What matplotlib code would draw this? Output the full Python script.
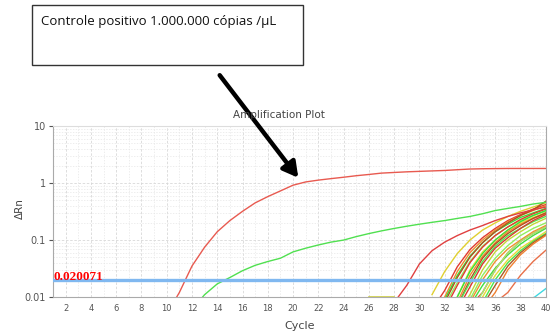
import numpy as np
import matplotlib
matplotlib.use("Agg")
from matplotlib import pyplot as plt
from matplotlib.ticker import LogLocator, FixedLocator, NullFormatter

# amostra controle positivo (curva principal)
main_cycles = list(range(10, 41))
main_vals = [0.005, 0.012, 0.035, 0.075, 0.14, 0.22, 0.32, 0.45, 0.58, 0.73,
             0.92, 1.05, 1.13, 1.2, 1.27, 1.35, 1.42, 1.5, 1.54, 1.58,
             1.61, 1.64, 1.67, 1.72, 1.77, 1.79, 1.8, 1.81, 1.81, 1.81, 1.81]

green_cycles = list(range(12, 41))
green_vals = [0.006, 0.011, 0.017, 0.022, 0.029, 0.036, 0.042, 0.048, 0.062, 0.072,
              0.082, 0.092, 0.10, 0.115, 0.13, 0.145, 0.16, 0.175, 0.19, 0.205,
              0.22, 0.24, 0.26, 0.29, 0.33, 0.36, 0.39, 0.43, 0.46]

red2_cycles = list(range(28, 41))
red2_vals = [0.008, 0.016, 0.038, 0.065, 0.092, 0.12, 0.15, 0.18, 0.22, 0.26, 0.30, 0.34, 0.38]

# curvas tardias (ciclos 31..40)
late_cycles = list(range(31, 41))
late_vals = [
    [0.011, 0.028, 0.058, 0.10, 0.15, 0.20, 0.26, 0.32, 0.38, 0.45],
    [0.006, 0.013, 0.034, 0.068, 0.11, 0.16, 0.22, 0.28, 0.35, 0.42],
    [0.005, 0.010, 0.028, 0.060, 0.10, 0.15, 0.21, 0.27, 0.33, 0.40],
    [0.004, 0.009, 0.024, 0.052, 0.09, 0.14, 0.19, 0.25, 0.30, 0.36],
    [0.004, 0.008, 0.022, 0.050, 0.09, 0.14, 0.20, 0.27, 0.34, 0.48],
    [0.003, 0.007, 0.018, 0.042, 0.078, 0.12, 0.17, 0.22, 0.27, 0.32],
    [0.003, 0.006, 0.016, 0.040, 0.075, 0.12, 0.17, 0.23, 0.29, 0.35],
    [0.003, 0.005, 0.010, 0.030, 0.062, 0.10, 0.15, 0.20, 0.25, 0.30],
    [0.003, 0.005, 0.010, 0.028, 0.058, 0.10, 0.15, 0.21, 0.27, 0.33],
    [0.002, 0.004, 0.008, 0.024, 0.052, 0.09, 0.14, 0.19, 0.24, 0.29],
    [0.002, 0.004, 0.007, 0.020, 0.048, 0.085, 0.13, 0.18, 0.24, 0.30],
    [0.002, 0.004, 0.007, 0.018, 0.042, 0.078, 0.12, 0.16, 0.21, 0.26],
    [0.002, 0.003, 0.006, 0.015, 0.038, 0.072, 0.11, 0.16, 0.22, 0.28],
    [0.002, 0.003, 0.005, 0.011, 0.030, 0.062, 0.10, 0.14, 0.19, 0.24],
    [0.002, 0.003, 0.005, 0.009, 0.024, 0.048, 0.080, 0.12, 0.16, 0.20],
    [0.002, 0.003, 0.004, 0.008, 0.020, 0.042, 0.070, 0.10, 0.14, 0.18],
    [0.002, 0.003, 0.004, 0.007, 0.016, 0.032, 0.055, 0.085, 0.12, 0.16],
    [0.002, 0.003, 0.004, 0.007, 0.012, 0.030, 0.060, 0.095, 0.13, 0.17],
    [0.002, 0.003, 0.004, 0.006, 0.010, 0.024, 0.045, 0.072, 0.10, 0.14],
    [0.002, 0.003, 0.004, 0.005, 0.008, 0.020, 0.040, 0.065, 0.095, 0.13],
    [0.002, 0.003, 0.004, 0.005, 0.007, 0.016, 0.035, 0.060, 0.09, 0.125],
    [0.002, 0.003, 0.004, 0.005, 0.006, 0.012, 0.030, 0.055, 0.085, 0.12],
    [0.002, 0.003, 0.004, 0.005, 0.012, 0.030, 0.060, 0.095, 0.13, 0.17],
    [0.002, 0.003, 0.004, 0.005, 0.006, 0.008, 0.012, 0.024, 0.042, 0.066],
    [0.002, 0.003, 0.004, 0.005, 0.006, 0.007, 0.008, 0.009, 0.0095, 0.014],
]
late_colors = ['#e0d030', '#e03a30', '#f08a30', '#38e038', '#b05020', '#90ee60',
               '#e03a30', '#e8e040', '#38e038', '#f08a30', '#b05020', '#50e850',
               '#d83a30', '#c0d838', '#90ee60', '#f09030', '#40e040', '#e04838',
               '#e8d838', '#48e848', '#a85a28', '#f08030', '#a0f070', '#e8704a',
               '#40d8e0']

flat_cycles = [26, 27, 28]
flat_vals = [0.0101, 0.0101, 0.0101]

threshold = 0.020071
xticks = list(range(2, 41, 2))

fig = plt.figure(figsize=(5.58, 3.31), dpi=100)
ax = fig.add_axes([0.095, 0.1027, 0.883, 0.516])
ax.set_yscale('log')
ax.set_xlim(1, 40)
ax.set_ylim(0.01, 10)

for vals, col in zip(late_vals, late_colors):
    ax.plot(late_cycles, vals, color=col, lw=1.0)
ax.plot(flat_cycles, flat_vals, color='#d0d040', lw=1.2)
ax.plot(red2_cycles, red2_vals, color='#e04040', lw=1.0)
ax.plot(green_cycles, green_vals, color='#50e050', lw=1.0)
ax.plot(main_cycles, main_vals, color='#e85a50', lw=1.0)

ax.axhline(threshold, color='#80b8f0', lw=2.4, zorder=5)
ax.text(1.05, threshold, '0.020071', color='#ff0000', fontsize=9.5, fontweight='bold',
        family='Liberation Serif', va='baseline', ha='left', zorder=6)

ax.xaxis.set_major_locator(FixedLocator(xticks))
ax.xaxis.set_minor_locator(FixedLocator(list(range(1, 41))))
ax.yaxis.set_major_locator(LogLocator(base=10))
ax.yaxis.set_minor_locator(LogLocator(base=10, subs=np.arange(2, 10)))
ax.yaxis.set_minor_formatter(NullFormatter())
ax.set_yticks([0.01, 0.1, 1, 10])
ax.set_yticklabels(['0.01', '0.1', '1', '10'])
ax.grid(True, which='major', color='#d8d8d8', ls=(0, (3, 2)), lw=0.6)
ax.grid(True, which='minor', color='#e6e6e6', ls=(0, (2, 2)), lw=0.5)
ax.set_axisbelow(True)
ax.tick_params(axis='x', which='major', labelsize=6, colors='#555555', length=0, pad=5)
ax.tick_params(axis='x', which='minor', length=0)
ax.tick_params(axis='y', which='major', labelsize=7, colors='#555555', length=3, pad=2)
ax.tick_params(axis='y', which='minor', length=0)
for s in ['left', 'bottom', 'right']:
    ax.spines[s].set_color('#aaaaaa')
ax.spines['top'].set_color('#dddddd')

ax.set_xlabel('Cycle', fontsize=8, color='#444444', labelpad=6)
fig.text(0.036, 0.37, 'ΔRn', rotation=90, fontsize=7.5, color='#444444', ha='center', va='center')
fig.text(0.5, 1 - 115 / 331, 'Amplification Plot', fontsize=7.5, color='#444444', ha='center', va='center')

# caixa de texto
box = plt.Rectangle((32 / 558, 1 - 65 / 331), 271 / 558, 60 / 331, transform=fig.transFigure,
                    facecolor='white', edgecolor='#333333', lw=1.0)
fig.patches.append(box)
fig.text(41 / 558, 1 - 22 / 331, 'Controle positivo 1.000.000 cópias /µL', fontsize=9.5,
         family='Open Sans', color='#111111', ha='left', va='center')

# seta
fig.patches.append(matplotlib.patches.FancyArrowPatch(
    (218 / 558, 1 - 73 / 331), (300 / 558, 1 - 180 / 331), transform=fig.transFigure,
    arrowstyle='-|>,head_length=9,head_width=5', lw=3.2, color='black', mutation_scale=1))

fig.savefig('out.png', dpi=100)
